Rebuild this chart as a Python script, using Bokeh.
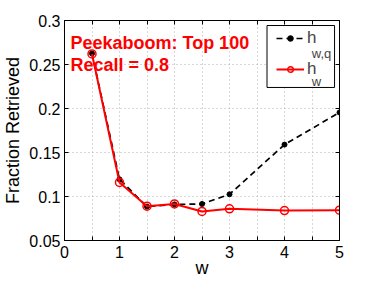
from bokeh.plotting import figure
from bokeh.models import (Legend, LegendItem, Label, FixedTicker, LinearAxis,
                          Range1d, BoxAnnotation)
from bokeh.embed import file_html
from bokeh.resources import INLINE

w = [0.5, 1, 1.5, 2, 2.5, 3, 4, 5]
h_wq = [0.2625, 0.1195, 0.0885, 0.0910, 0.0915, 0.1025, 0.1590, 0.1955]
h_w = [0.2620, 0.1160, 0.0890, 0.0915, 0.0830, 0.0860, 0.0840, 0.0845]
x_ticks = [0, 0.5, 1, 1.5, 2, 2.5, 3, 3.5, 4, 4.5, 5]
y_ticks = [0.05, 0.1, 0.15, 0.2, 0.25, 0.3]
FONT = "Liberation Sans"

p = figure(width=374, height=281, output_backend="svg", toolbar_location=None,
           x_range=Range1d(0, 5), y_range=Range1d(0.05, 0.3),
           min_border_left=62, min_border_right=35, min_border_top=20,
           min_border_bottom=41)
p.outline_line_color = "black"
p.outline_line_width = 1
p.background_fill_color = "white"
p.border_fill_color = "white"

for ax in (p.xaxis, p.yaxis):
    ax.major_label_text_font = FONT
    ax.major_label_text_font_size = "16px"
    ax.major_label_text_color = "black"
    ax.axis_label_text_font = FONT
    ax.axis_label_text_font_size = "18px"
    ax.axis_label_text_font_style = "normal"
    ax.axis_label_text_color = "black"
    ax.major_tick_in = 4
    ax.major_tick_out = 0
    ax.minor_tick_line_color = None
    ax.axis_line_color = "black"

p.xaxis.ticker = FixedTicker(ticks=x_ticks)
p.xaxis.major_label_overrides = {t: ("" if t % 1 else str(int(t))) for t in x_ticks}
p.yaxis.ticker = FixedTicker(ticks=y_ticks)
p.yaxis.major_label_overrides = {0.05: "0.05", 0.1: "0.1", 0.15: "0.15",
                                 0.2: "0.2", 0.25: "0.25", 0.3: "0.3"}
p.xaxis.axis_label = "w"
p.yaxis.axis_label = "Fraction Retrieved"
p.xaxis.major_label_standoff = 5
p.xaxis.axis_label_standoff = -3
p.yaxis.major_label_standoff = 4
p.yaxis.axis_label_standoff = 3

top = LinearAxis(ticker=FixedTicker(ticks=x_ticks), major_label_text_font_size="0px",
                 major_tick_in=4, major_tick_out=0, minor_tick_line_color=None)
right = LinearAxis(ticker=FixedTicker(ticks=y_ticks), major_label_text_font_size="0px",
                   major_tick_in=4, major_tick_out=0, minor_tick_line_color=None)
top.major_label_overrides = {t: "" for t in x_ticks}
right.major_label_overrides = {t: "" for t in y_ticks}
p.add_layout(top, "above")
p.add_layout(right, "right")

p.xgrid.ticker = FixedTicker(ticks=x_ticks)
p.ygrid.ticker = FixedTicker(ticks=y_ticks)
for g in (p.xgrid, p.ygrid):
    g.grid_line_color = "#b0b0b0"
    g.grid_line_dash = "1 3"
    g.grid_line_width = 1

# legend frame (white box drawn over the grid)
p.add_layout(BoxAnnotation(left=3.682, right=4.91, top=0.2943, bottom=0.2239,
                           fill_color="white", fill_alpha=1,
                           line_color="black", line_width=1, line_alpha=1,
                           level="underlay"))

l1 = p.line(w, h_wq, line_color="black", line_width=1.7, line_dash="6 4")
m1 = p.scatter(w, h_wq, size=5, fill_color="black", line_color="black")
l2 = p.line(w, h_w, line_color="#ff0000", line_width=2)
m2 = p.scatter(w, h_w, size=8, fill_color=None, line_color="#ff0000", line_width=1.5)

legend = Legend(items=[LegendItem(label="h", renderers=[l1, m1]),
                       LegendItem(label="h", renderers=[l2, m2])],
                location="top_right")
legend.label_text_font = FONT
legend.label_text_font_size = "17px"
legend.border_line_color = None
legend.background_fill_alpha = 0
legend.glyph_width = 28
legend.glyph_height = 14
legend.label_height = 26
legend.label_width = 27
legend.label_standoff = 3
legend.padding = 3
legend.spacing = 5
legend.margin = 5
p.add_layout(legend)

# legend subscripts
p.add_layout(Label(x=4.495, y=0.2625, text="w,q", text_font=FONT,
                   text_font_size="13px", text_baseline="alphabetic"))
p.add_layout(Label(x=4.495, y=0.2307, text="w", text_font=FONT,
                   text_font_size="13px", text_baseline="alphabetic"))

p.add_layout(Label(x=0.108, y=0.2739, text="Peekaboom: Top 100", text_color="#ff0000",
                   text_font=FONT, text_font_size="18px", text_font_style="bold",
                   text_baseline="alphabetic"))
p.add_layout(Label(x=0.108, y=0.2489, text="Recall = 0.8", text_color="#ff0000",
                   text_font=FONT, text_font_size="18px", text_font_style="bold",
                   text_baseline="alphabetic"))

open("out.html", "w").write(file_html(p, INLINE))
